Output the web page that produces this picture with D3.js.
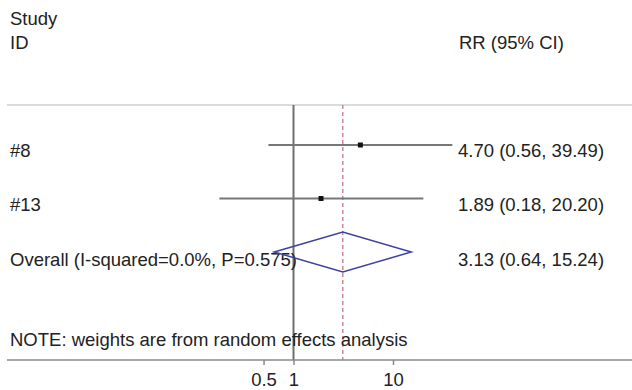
<!DOCTYPE html>
<html>
<head>
<meta charset="utf-8">
<script src="https://cdn.jsdelivr.net/npm/d3@7"></script>
<style>
  body { margin: 0; background: #fff; }
  svg text { font-family: "Liberation Sans", Arial, Helvetica, sans-serif; font-size: 18.5px; fill: #222; }
</style>
</head>
<body>
<svg id="chart" width="632" height="390"></svg>
<script>
// Study rows
const studyIds = ['#8', '#13'];
const studyRR = [4.70, 1.89];
const studyLow = [0.56, 0.18];
const studyHigh = [39.49, 20.20];

// Pooled estimate
const overallLabel = 'Overall (I-squared=0.0%, P=0.575)';
const overallRR = 3.13;
const overallLow = 0.64;
const overallHigh = 15.24;

const tickValues = [0.5, 1, 10];
const noteText = 'NOTE: weights are from random effects analysis';

const fmt = d3.format('.2f');
const ciText = (r, l, h) => `${fmt(r)} (${fmt(l)}, ${fmt(h)})`;

const svg = d3.select('#chart');
const width = 632;

const x = d3.scaleLog().domain([1, 10]).range([293.5, 393]);
const rowY = d3.scalePoint().domain([...studyIds, 'overall']).range([145, 252]);

const topY = 105;
const axisY = 360;

// Header
svg.append('text').attr('x', 10).attr('y', 25).text('Study');
svg.append('text').attr('x', 10).attr('y', 49).text('ID');
svg.append('text').attr('x', 459).attr('y', 49).text('RR (95% CI)');

// Top rule
svg.append('line')
  .attr('x1', 7).attr('x2', width)
  .attr('y1', topY).attr('y2', topY)
  .attr('stroke', '#cfcfcf').attr('stroke-width', 1.5);

// No-effect line
svg.append('line')
  .attr('x1', x(1)).attr('x2', x(1))
  .attr('y1', topY).attr('y2', axisY)
  .attr('stroke', '#6e6e6e').attr('stroke-width', 2);

// Overall effect line (dashed)
svg.append('line')
  .attr('x1', x(overallRR)).attr('x2', x(overallRR))
  .attr('y1', topY).attr('y2', axisY)
  .attr('stroke', '#c46b7e').attr('stroke-width', 1.2)
  .attr('stroke-dasharray', '4,3');

// Study rows
studyIds.forEach((id, i) => {
  const y = rowY(id);
  svg.append('text').attr('x', 10).attr('y', y + 12).text(id);
  svg.append('line')
    .attr('x1', x(studyLow[i])).attr('x2', x(studyHigh[i]))
    .attr('y1', y).attr('y2', y)
    .attr('stroke', '#777').attr('stroke-width', 2);
  svg.append('rect')
    .attr('x', x(studyRR[i]) - 2.5).attr('y', y - 2.5)
    .attr('width', 5).attr('height', 5)
    .attr('fill', '#111');
  svg.append('text').attr('x', 458).attr('y', y + 12)
    .text(ciText(studyRR[i], studyLow[i], studyHigh[i]));
});

// Overall row
const oy = rowY('overall');
svg.append('text').attr('x', 10).attr('y', oy + 14).text(overallLabel);
svg.append('text').attr('x', 458).attr('y', oy + 14)
  .text(ciText(overallRR, overallLow, overallHigh));
svg.append('polygon')
  .attr('points', [
    [x(overallLow), oy],
    [x(overallRR), oy - 20],
    [x(overallHigh), oy],
    [x(overallRR), oy + 20]
  ].map(p => p.join(',')).join(' '))
  .attr('fill', 'none')
  .attr('stroke', '#3d42a0')
  .attr('stroke-width', 1.5);

// Note
svg.append('text').attr('x', 10).attr('y', 346).text(noteText);

// Axis
svg.append('line')
  .attr('x1', 7).attr('x2', width)
  .attr('y1', axisY).attr('y2', axisY)
  .attr('stroke', '#8a8a8a').attr('stroke-width', 1.5);

const axis = svg.append('g')
  .attr('transform', `translate(0,${axisY})`)
  .call(d3.axisBottom(x).tickValues(tickValues).tickSize(5).tickPadding(8).tickFormat(d3.format('')));
axis.select('.domain').remove();
axis.selectAll('.tick line').attr('stroke', '#8a8a8a').attr('stroke-width', 1.5);
axis.selectAll('.tick text')
  .attr('font-size', null).attr('font-family', null)
  .style('font-size', '18.5px').style('fill', '#222');
</script>
</body>
</html>
